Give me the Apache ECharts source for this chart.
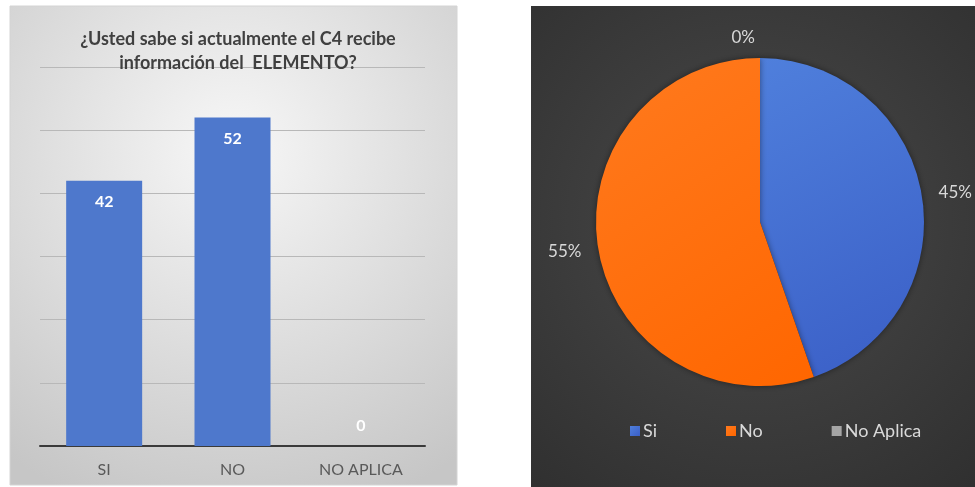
<!DOCTYPE html>
<html>
<head>
<meta charset="utf-8">
<script src="https://cdn.jsdelivr.net/npm/echarts@6/dist/echarts.min.js"></script>
<style>
  html, body { margin: 0; padding: 0; background: #ffffff; }
  #chart { width: 975px; height: 487px; }
</style>
</head>
<body>
<div id="chart"></div>
<script>
// Survey answers: bar chart of counts and pie of shares
const barCategories = ['SI', 'NO', 'NO APLICA'];
const barValues = [42, 52, 0];
const pieNames = ['Si', 'No', 'No Aplica'];
const pieValues = [42, 52, 0];
const pieColors = ['#4a74d0', '#ff6d0a', '#a5a5a5'];
const titleText = '¿Usted sabe si actualmente el C4 recibe\ninformación del  ELEMENTO?';

const chart = echarts.init(document.getElementById('chart'), null, { renderer: 'canvas' });

const blueGrad = new echarts.graphic.LinearGradient(0, 0, 1, 1, [
  { offset: 0, color: '#4f7fdc' }, { offset: 1, color: '#3a5ec6' }
]);
const orangeGrad = new echarts.graphic.LinearGradient(0, 0, 1, 1, [
  { offset: 0, color: '#ff7a1e' }, { offset: 1, color: '#ff6600' }
]);
const pieFills = [blueGrad, orangeGrad, pieColors[2]];

chart.setOption({
  animation: false,
  textStyle: { fontFamily: 'Lato, "Open Sans", sans-serif' },
  graphic: [
    {
      type: 'rect', z: -10, silent: true,
      shape: { x: 10, y: 6, width: 447, height: 479 },
      style: {
        fill: new echarts.graphic.RadialGradient(0.5, 0.3, 0.85, [
          { offset: 0, color: '#f7f7f7' }, { offset: 1, color: '#c6c6c6' }
        ]),
        stroke: '#d4d4d4', lineWidth: 1
      }
    },
    {
      type: 'rect', z: -10, silent: true,
      shape: { x: 531, y: 6, width: 444, height: 481 },
      style: {
        fill: new echarts.graphic.RadialGradient(0.5, 0.45, 0.8, [
          { offset: 0, color: '#4a4a4a' }, { offset: 1, color: '#2f2f2f' }
        ])
      }
    }
  ],
  title: {
    text: titleText,
    left: 233, top: 22, textAlign: 'center',
    textStyle: { fontSize: 18, fontWeight: 'bold', color: '#404040', lineHeight: 24, fontFamily: 'Lato, sans-serif' }
  },
  legend: {
    data: pieNames,
    left: 625, top: 417,
    icon: 'rect', itemWidth: 10, itemHeight: 10, itemGap: 69,
    textStyle: { color: '#d9d9d9', fontSize: 18, padding: [0, 0, 0, -2] }
  },
  grid: { left: 40, right: 550, top: 67, bottom: 41, containLabel: false },
  xAxis: {
    type: 'category',
    data: barCategories,
    axisLine: { lineStyle: { color: '#3a3a3a', width: 2 } },
    axisTick: { show: false },
    axisLabel: { color: '#595959', fontSize: 16, margin: 16 }
  },
  yAxis: {
    type: 'value', min: 0, max: 60, interval: 10,
    axisLabel: { show: false },
    axisLine: { show: false },
    axisTick: { show: false },
    splitLine: { lineStyle: { color: '#b8b8b8', width: 1 } }
  },
  series: [
    {
      type: 'bar',
      barWidth: 76,
      data: barValues.map(v => v === 0
        ? { value: v, label: { position: 'top', distance: 12 } }
        : v),
      itemStyle: { color: '#4e78cc' },
      label: {
        show: true, position: 'insideTop', distance: 13,
        color: '#ffffff', fontSize: 16, fontWeight: 'bold'
      }
    },
    {
      type: 'pie',
      center: [760, 222],
      radius: 164,
      startAngle: 90,
      clockwise: true,
      data: pieNames.map((n, i) => ({
        name: n, value: pieValues[i],
        itemStyle: { color: pieFills[i] },
        labelLine: { length: pieValues[i] === 0 ? 20 : 12 }
      })),
      itemStyle: { borderWidth: 0, shadowBlur: 6, shadowColor: 'rgba(0,0,0,0.45)' },
      label: {
        show: true, position: 'outside', overflow: 'none',
        formatter: p => Math.round(p.percent) + '%',
        color: '#d9d9d9', fontSize: 17
      },
      labelLine: { show: false, length: 12, length2: 0 },
      emphasis: { disabled: true }
    }
  ]
});
</script>
</body>
</html>
